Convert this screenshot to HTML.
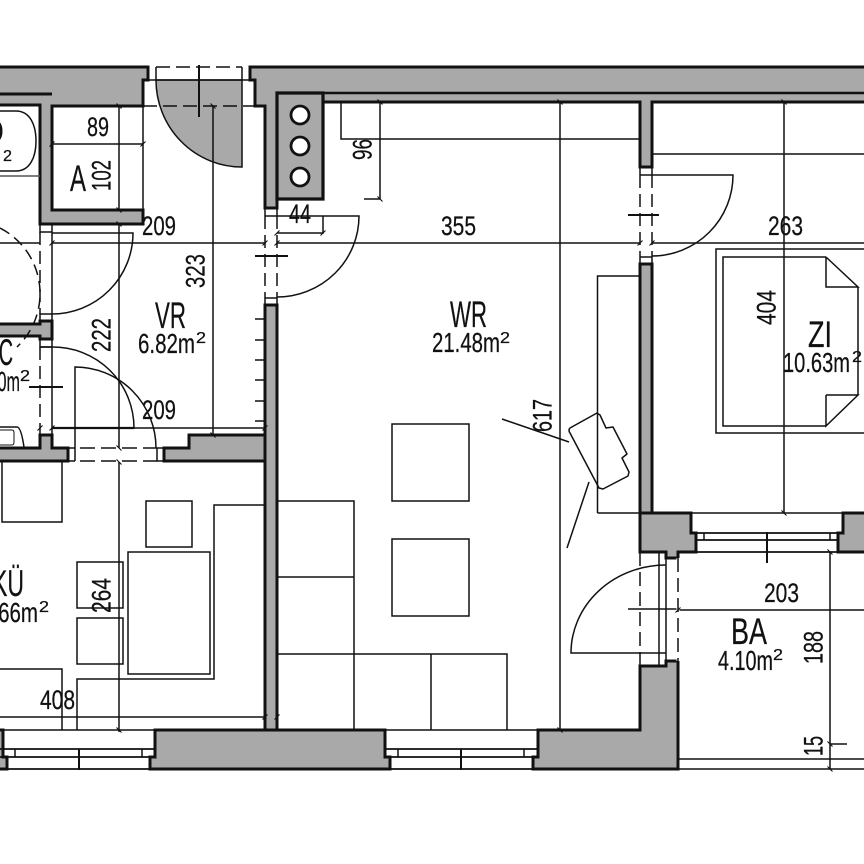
<!DOCTYPE html>
<html><head><meta charset="utf-8"><style>
html,body{margin:0;padding:0;background:#fff}
svg{display:block}
text{font-family:"Liberation Sans",sans-serif;fill:#111;stroke:#111;stroke-width:.25px}
.d{font-size:27px}
.r{font-size:37px}
.a{font-size:28px}
.s{font-size:16px}
</style></head><body>
<svg width="864" height="864" viewBox="0 0 864 864" xmlns="http://www.w3.org/2000/svg">
<rect width="864" height="864" fill="#fff"/>
<!-- walls -->
<g fill="#a9a9a9" stroke="#111" stroke-width="3" stroke-linejoin="miter">
<path d="M-3 67H148V80H143V106H52V210H143V224H40V105H-3V94H-3Z"/>
<path d="M867 67H250V80H255V106H265V208H277V93H323V199H277V102H640V167H652V102H867Z" fill="#a9a9a9"/>
<path d="M265 305H277V730H265Z"/>
<path d="M640 264H652V513H640Z"/>
<path d="M640 513H691V533H696V552H678V558H666V552H640Z"/>
<path d="M867 513H843V533H838V552H867Z"/>
<path d="M640 666H666V661H678V769H533V757H538V730H640Z"/>
<path d="M155 730H385V757H390V769H150V757H155Z"/>
<path d="M-3 730H3V757H7V769H-3Z"/>
<path d="M-3 324H40V321H52V339H40V336H-3Z"/>
<path d="M-3 448H40V435H52V448H68V461H-3Z"/>
<path d="M164 448H189V435H265V461H164Z"/>
</g>
<path d="M277 93H323V199H277Z" fill="#a9a9a9" stroke="#111" stroke-width="3.200"/>
<path d="M323 93H867" stroke="#111" stroke-width="2.600" fill="none"/>
<path d="M0 94H52" stroke="#111" stroke-width="3" fill="none"/>
<g fill="#fff" stroke="#111" stroke-width="2.800">
<circle cx="300" cy="115" r="9"/><circle cx="300" cy="146" r="9"/><circle cx="300" cy="177" r="9"/>
</g>
<!-- entry door -->
<path d="M156 80H242V167A86 87 0 0 1 156 80Z" fill="#a9a9a9" stroke="#111" stroke-width="1.500"/>
<g fill="none" stroke="#111" stroke-width="1.500">
<path d="M143 80H255"/>
<path d="M148 67V80M156 67V80M242 67V80M250 67V80"/>
<path d="M156 67H242" stroke-dasharray="14 6"/>
<path d="M143 106H255" stroke-dasharray="14 6"/>
<path d="M199 65V117" stroke-width="2"/>
<!-- dimension and thin lines -->
<path d="M143 106V210"/>
<path d="M119 106V210M119 224V448M119 462V732"/>
<path d="M213 106V435"/>
<path d="M52 144H143"/>
<path d="M0 243H40M52 243H265M277 243H640M652 243H864"/>
<path d="M341 102V139H640"/>
<path d="M380 102V199M364 199H380"/>
<path d="M323 216V233H277"/>
<path d="M560 102V730"/>
<path d="M784 102V513"/>
<path d="M652 154H864"/>
<path d="M52 428H265"/>
<path d="M0 717H265"/>
<path d="M830 552V769"/>
<path d="M678 610H864"/>
<path d="M628 609H678"/>
<path d="M830 744H847"/>
<path d="M678 759H864M678 769H864"/>
<!-- door stubs -->
<path d="M265 216H277M265 208V216M277 208V216M265 298H277M265 298V305M277 298V305"/>
<path d="M265 216V298M277 216V298" stroke-dasharray="13 6"/>
<path d="M255 256H288" stroke-width="2"/>
<path d="M277 216H359A82 81 0 0 1 277 297"/>
<path d="M640 175H652M640 167V175M652 167V175M640 257H652M640 257V264M652 257V264"/>
<path d="M640 175V257M652 175V257" stroke-dasharray="13 6"/>
<path d="M628 215H659" stroke-width="2"/>
<path d="M652 175H733A81 81 0 0 1 652 256"/>
<!-- left doors -->
<path d="M40 224V232H52M52 224V321"/>
<path d="M40 232V314" stroke-dasharray="13 6"/>
<path d="M52 233H133A81 81 0 0 1 52 314H40V321"/>
<path d="M0 228A73.600 73.600 0 0 1 17 347" stroke-dasharray="11 6"/>
<path d="M40 339V347H52M52 339V436"/>
<path d="M40 347V435" stroke-dasharray="13 6"/>
<path d="M52 347A81 81 0 0 1 134 428H52" />
<path d="M40 347H52"/>
<path d="M29 387H63" stroke-width="2"/>
<path d="M52 428H134" stroke-width="2.200"/>
<path d="M75 461V367A81 81 0 0 1 156 448"/>
<path d="M80 448H157M80 461H157" stroke-dasharray="15 6"/>
<path d="M157 448H164V461H157V448"/>
<path d="M68 448H75M68 461H75"/>
<!-- bath -->
<path d="M0 111H16C30 111 36 125 36 141C36 157 30 171 16 171H0"/>
<path d="M0 176H40" stroke="#555"/>
<path d="M0 427H17Q21 427 24 447"/>
<path d="M0 430H12Q14 430 14 433V442Q14 445 12 445H0" stroke-width="1"/>
<!-- kitchen furniture -->
<rect x="2" y="461" width="60" height="61"/>
<rect x="146" y="501" width="46" height="46"/>
<rect x="128" y="552" width="82" height="122"/>
<rect x="77" y="562" width="46" height="46"/>
<rect x="77" y="618" width="46" height="46"/>
<path d="M265 505H214V679H77V730"/>
<path d="M0 669H62V730"/>
<!-- wr furniture -->
<rect x="392" y="424" width="77" height="77"/>
<rect x="392" y="539" width="77" height="77"/>
<path d="M277 501H354V730M277 577H354M277 654H507V730M431 654V730"/>
<path d="M597.500 513V276H640M597.500 513H640"/>
<path d="M570 428L597 413L600 415L606 428L613 427L627 454L622 458L629 472L628 476L603 489L599 488L570 433Q568 430 570 428Z" stroke-linejoin="round"/>
<path d="M502 419L569 442M567 548L589 482"/>
<!-- bed -->
<path d="M864 249H716V433H864"/>
<path d="M826 257H723V426H826M826 257L858 287H826V257M858 287V395M826 395H858L826 426V395"/>
<!-- windows -->
<path d="M0 730H155M385 730H538M640 513H864"/>
<path d="M0 749H155M0 757H155M0 769H155M385 749H538M385 757H538M385 769H538" stroke-width="1.800"/>
<path d="M15 749V757M142 749V757M398 749V757M524 749V757"/>
<path d="M79 749V770M461 749V770" stroke-width="2"/>
<path d="M691 533H843M696 540H838M696 552H838" stroke-width="1.800"/>
<path d="M704 533V540M830 533V540"/>
<path d="M767 532V563" stroke-width="2"/>
<!-- ba door -->
<path d="M659 552V666M666 558V661"/>
<path d="M678 558V661" stroke="#fff" stroke-width="3"/>
<path d="M678 558V661" stroke-dasharray="14 6"/>
<path d="M666 565A95 88 0 0 0 571 653H666"/>
<!-- hatch -->
<path d="M255 319H265M255 340H265M255 360H265M255 380H265M255 401H265M255 421H265"/>
<!-- dimension end ticks -->
<path stroke-width="1.100" d="M116.500 103.500l5 5M116.500 207.500l5 5M116.500 221.500l5 5M116.500 445.500l5 5M116.500 459.500l5 5M116.500 727.500l5 5M210.500 103.500l5 5M210.500 432.500l5 5M49.500 146.500l5 -5M140.500 146.500l5 -5M49.500 245.500l5 -5M262.500 245.500l5 -5M37.500 430.500l5 -5M49.500 430.500l5 -5M262.500 430.500l5 -5M377.500 99.500l5 5M377.500 196.500l5 5M320.500 235.500l5 -5M274.500 235.500l5 -5M274.500 245.500l5 -5M637.500 245.500l5 -5M649.500 245.500l5 -5M557.500 99.500l5 5M557.500 727.500l5 5M781.500 99.500l5 5M781.500 510.500l5 5M827.500 549.500l5 5M827.500 741.500l5 5M827.500 766.500l5 5M675.500 612.500l5 -5M262.500 719.500l5 -5M274.500 719.500l5 -5"/>
</g>
<path d="M640 552V666" stroke="#111" stroke-width="1.500" stroke-dasharray="14 6" fill="none"/>
<!-- labels -->
<text class="r" x="450" y="327" textLength="37" lengthAdjust="spacingAndGlyphs">WR</text>
<text class="a" x="432" y="352" textLength="68" lengthAdjust="spacingAndGlyphs">21.48m</text>
<text class="s" x="500" y="343" textLength="10" lengthAdjust="spacingAndGlyphs">2</text>
<text class="r" x="155" y="328" textLength="31" lengthAdjust="spacingAndGlyphs">VR</text>
<text class="a" x="138" y="353" textLength="57" lengthAdjust="spacingAndGlyphs">6.82m</text>
<text class="s" x="196" y="343" textLength="10" lengthAdjust="spacingAndGlyphs">2</text>
<text class="r" x="808" y="347" textLength="24" lengthAdjust="spacingAndGlyphs">ZI</text>
<text class="a" x="783" y="372" textLength="67" lengthAdjust="spacingAndGlyphs">10.63m</text>
<text class="s" x="852" y="362" textLength="10" lengthAdjust="spacingAndGlyphs">2</text>
<text class="r" x="731" y="644" textLength="36" lengthAdjust="spacingAndGlyphs">BA</text>
<text class="a" x="718" y="670" textLength="55" lengthAdjust="spacingAndGlyphs">4.10m</text>
<text class="s" x="773" y="660" textLength="10" lengthAdjust="spacingAndGlyphs">2</text>
<text class="r" x="-8" y="596" textLength="32" lengthAdjust="spacingAndGlyphs">KÜ</text>
<text class="a" x="-19" y="622" textLength="57" lengthAdjust="spacingAndGlyphs">8.66m</text>
<text class="s" x="39" y="612" textLength="10" lengthAdjust="spacingAndGlyphs">2</text>
<text class="r" x="-20" y="365" textLength="33" lengthAdjust="spacingAndGlyphs">WC</text>
<text class="a" x="-25" y="391" textLength="45" lengthAdjust="spacingAndGlyphs">1.90m</text>
<text class="s" x="20" y="381" textLength="10" lengthAdjust="spacingAndGlyphs">2</text>
<text class="r" x="-20" y="144" textLength="24" lengthAdjust="spacingAndGlyphs">D</text>
<text class="s" x="3" y="161" textLength="9" lengthAdjust="spacingAndGlyphs">2</text>
<text class="r" x="70" y="191" textLength="16" lengthAdjust="spacingAndGlyphs">A</text>
<!-- dimensions -->
<text class="d" x="87" y="136" textLength="22" lengthAdjust="spacingAndGlyphs">89</text>
<text class="d" x="142" y="235" textLength="34" lengthAdjust="spacingAndGlyphs">209</text>
<text class="d" x="142" y="419" textLength="34" lengthAdjust="spacingAndGlyphs">209</text>
<text class="d" x="289" y="223" textLength="22" lengthAdjust="spacingAndGlyphs">44</text>
<text class="d" x="441" y="235" textLength="35" lengthAdjust="spacingAndGlyphs">355</text>
<text class="d" x="768" y="235" textLength="35" lengthAdjust="spacingAndGlyphs">263</text>
<text class="d" x="764" y="602" textLength="35" lengthAdjust="spacingAndGlyphs">203</text>
<text class="d" x="40" y="709" textLength="35" lengthAdjust="spacingAndGlyphs">408</text>
<text class="d" transform="translate(110.500 191) rotate(-90)" textLength="31" lengthAdjust="spacingAndGlyphs">102</text>
<text class="d" transform="translate(204.500 288) rotate(-90)" textLength="34" lengthAdjust="spacingAndGlyphs">323</text>
<text class="d" transform="translate(110.500 352) rotate(-90)" textLength="34" lengthAdjust="spacingAndGlyphs">222</text>
<text class="d" transform="translate(110.500 613) rotate(-90)" textLength="35" lengthAdjust="spacingAndGlyphs">264</text>
<text class="d" transform="translate(371.500 160) rotate(-90)" textLength="21" lengthAdjust="spacingAndGlyphs">96</text>
<text class="d" transform="translate(551.500 432) rotate(-90)" textLength="33" lengthAdjust="spacingAndGlyphs">617</text>
<text class="d" transform="translate(775.500 325) rotate(-90)" textLength="35" lengthAdjust="spacingAndGlyphs">404</text>
<text class="d" transform="translate(822.500 664) rotate(-90)" textLength="33" lengthAdjust="spacingAndGlyphs">188</text>
<text class="d" transform="translate(822.500 756) rotate(-90)" textLength="20" lengthAdjust="spacingAndGlyphs">15</text>
</svg>
</body></html>
